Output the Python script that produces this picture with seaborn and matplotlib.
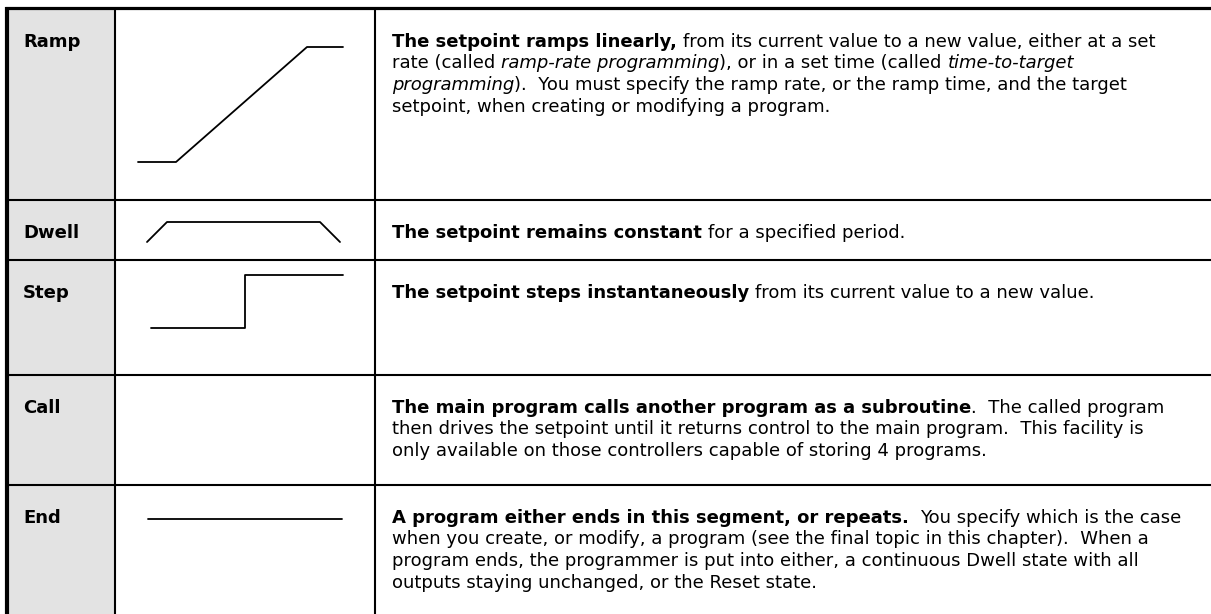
import matplotlib
matplotlib.use('Agg')
import matplotlib.pyplot as plt
import seaborn as sns

sns.set_theme(style='white')
plt.rcParams['font.family'] = ['DejaVu Sans']
plt.rcParams['text.color'] = 'black'

W, H = 1211, 614

# table layout (pixels)
col_edges = [9, 115, 375]
row_tops = [9, 200, 260, 375, 485]
labels = ['Ramp', 'Dwell', 'Step', 'Call', 'End']

# segment shapes, drawn in cell pixel coordinates
ramp_x = [138, 176, 307, 343]
ramp_y = [162, 162, 47, 47]
dwell_x = [147, 167, 320, 340]
dwell_y = [242, 222, 222, 242]
step_x = [151, 245, 245, 343]
step_y = [328, 328, 275, 275]
end_x = [148, 342]
end_y = [519, 519]
shapes = [(ramp_x, ramp_y), (dwell_x, dwell_y), (step_x, step_y), (end_x, end_y)]

# description text: one list of (text, style) runs per line
B, R, I = 'bold', 'normal', 'italic'
desc = [
    [[("The setpoint ramps linearly,", B), (" from its current value to a new value, either at a set", R)],
     [("rate (called ", R), ("ramp-rate programming", I), ("), or in a set time (called ", R), ("time-to-target", I)],
     [("programming", I), (").  You must specify the ramp rate, or the ramp time, and the target", R)],
     [("setpoint, when creating or modifying a program.", R)]],
    [[("The setpoint remains constant", B), (" for a specified period.", R)]],
    [[("The setpoint steps instantaneously", B), (" from its current value to a new value.", R)]],
    [[("The main program calls another program as a subroutine", B), (".  The called program", R)],
     [("then drives the setpoint until it returns control to the main program.  This facility is", R)],
     [("only available on those controllers capable of storing 4 programs.", R)]],
    [[("A program either ends in this segment, or repeats.", B), ("  You specify which is the case", R)],
     [("when you create, or modify, a program (see the final topic in this chapter).  When a", R)],
     [("program ends, the programmer is put into either, a continuous Dwell state with all", R)],
     [("outputs staying unchanged, or the Reset state.", R)]],
]

FS = 13.0
LINE_H = 21.5

fig = plt.figure(figsize=(W / 100, H / 100), dpi=100)
ax = fig.add_axes([0, 0, 1, 1])
ax.set_xlim(0, W)
ax.set_ylim(H, 0)
ax.axis('off')

# label column shading
ax.fill_between([col_edges[0], col_edges[1]], row_tops[0], H, color='#E3E3E3', lw=0, zorder=0)

# grid lines
for y in row_tops[1:]:
    ax.plot([col_edges[0], W], [y, y], color='black', lw=1.5, solid_capstyle='butt')
for x in col_edges[1:]:
    ax.plot([x, x], [row_tops[0], H], color='black', lw=1.5, solid_capstyle='butt')
ax.plot([5, W], [8, 8], color='black', lw=2.3, solid_capstyle='butt')
ax.plot([7, 7], [6.5, H], color='black', lw=3.0, solid_capstyle='butt')

for sx, sy in shapes:
    sns.lineplot(x=sx, y=sy, sort=False, estimator=None, color='black', lw=1.3, ax=ax)

renderer = fig.canvas.get_renderer()


def text_width(s, style):
    weight = 'bold' if style == B else 'normal'
    fstyle = 'italic' if style == I else 'normal'
    t = ax.text(0, 0, s, fontsize=FS, fontweight=weight, fontstyle=fstyle)
    w = t.get_window_extent(renderer).width
    t.remove()
    return w


space_w = {st: text_width('x x', st) - text_width('xx', st) for st in (B, R, I)}

for top, label, lines in zip(row_tops, labels, desc):
    base = top + 38
    ax.text(23, base, label, fontsize=FS, fontweight='bold', color='black',
            va='baseline', ha='left')
    for k, runs in enumerate(lines):
        x = 392
        y = base + k * LINE_H
        for s, st in runs:
            lead = len(s) - len(s.lstrip(' '))
            trail = len(s) - len(s.rstrip(' '))
            core = s.strip(' ')
            x += lead * space_w[st]
            ax.text(x, y, core, fontsize=FS, color='black', va='baseline', ha='left',
                    fontweight='bold' if st == B else 'normal',
                    fontstyle='italic' if st == I else 'normal')
            x += text_width(core, st) + trail * space_w[st]

fig.savefig('out.png', dpi=100, facecolor='white')
